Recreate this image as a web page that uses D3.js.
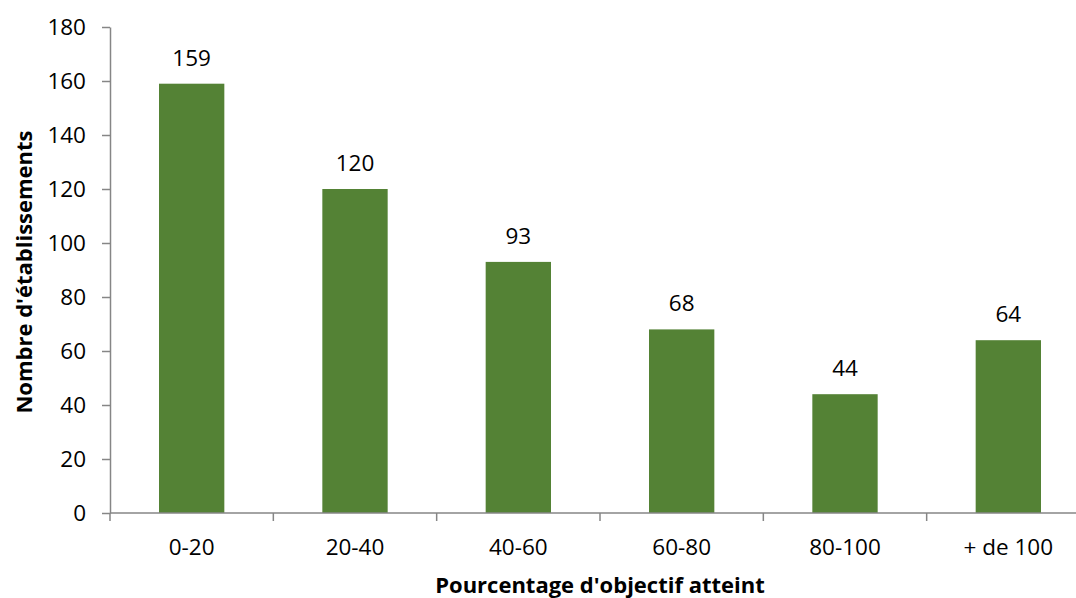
<!DOCTYPE html>
<html><head><meta charset="utf-8">
<script src="https://cdn.jsdelivr.net/npm/d3@7"></script>
<style>body{margin:0;background:#fff}svg{display:block}</style>
</head><body>
<script>
const categories = ["0-20","20-40","40-60","60-80","80-100","+ de 100"];
const values = [159,120,93,68,44,64];
const yTicks = [0,20,40,60,80,100,120,140,160,180];
const xTitle = "Pourcentage d'objectif atteint";
const yTitle = "Nombre d'établissements";

const W=1076,H=598;
const font = "'Open Sans', sans-serif";
const fs = 22.5;
const svg = d3.select("body").append("svg").attr("width",W).attr("height",H);
const x = d3.scaleBand().domain(categories).range([110,1090]).padding(0);
const y = d3.scaleLinear().domain([0,180]).range([513,27]);
const axisColor="#868686";

// bars
const bw = x.bandwidth()*0.4;
svg.selectAll("rect.bar").data(values).join("rect")
  .attr("x",(d,i)=>x(categories[i])+x.bandwidth()/2-bw/2)
  .attr("y",d=>y(d)).attr("width",bw).attr("height",d=>y(0)-y(d))
  .attr("fill","#548235");

// labels
svg.selectAll("text.lab").data(values).join("text")
  .attr("x",(d,i)=>x(categories[i])+x.bandwidth()/2)
  .attr("y",d=>y(d)-18).attr("text-anchor","middle")
  .attr("font-family",font).attr("font-size",fs).attr("fill","#000").text(d=>d);

// y axis
const ya = svg.append("g").attr("transform","translate(110,0)")
  .call(d3.axisLeft(y).tickValues(yTicks).tickSize(8).tickSizeOuter(0).tickPadding(16));
ya.select(".domain").attr("stroke",axisColor).attr("stroke-width",1.5);
ya.selectAll(".tick line").attr("stroke",axisColor).attr("stroke-width",1.5);
ya.selectAll("text").attr("font-family",font).attr("font-size",fs).attr("fill","#000");

// x axis
const xa = svg.append("g").attr("transform","translate(0,513)");
xa.append("line").attr("x1",110).attr("x2",1090).attr("stroke",axisColor).attr("stroke-width",1.5);
const bounds = categories.map(c=>x(c)).concat([x(categories[categories.length-1])+x.bandwidth()]);
xa.selectAll("line.t").data(bounds).join("line").attr("class","t")
  .attr("x1",d=>d).attr("x2",d=>d).attr("y1",0).attr("y2",8).attr("stroke",axisColor).attr("stroke-width",1.5);
xa.selectAll("text").data(categories).join("text")
  .attr("x",c=>x(c)+x.bandwidth()/2).attr("y",42).attr("text-anchor","middle")
  .attr("font-family",font).attr("font-size",fs).attr("fill","#000").text(c=>c);

// titles
svg.append("text").attr("x",600).attr("y",593).attr("text-anchor","middle")
  .attr("font-family",font).attr("font-weight","bold").attr("font-size",22).text(xTitle);
svg.append("text").attr("transform","translate(32,272) rotate(-90)").attr("text-anchor","middle")
  .attr("font-family",font).attr("font-weight","bold").attr("font-size",22).text(yTitle);
</script>
</body></html>
